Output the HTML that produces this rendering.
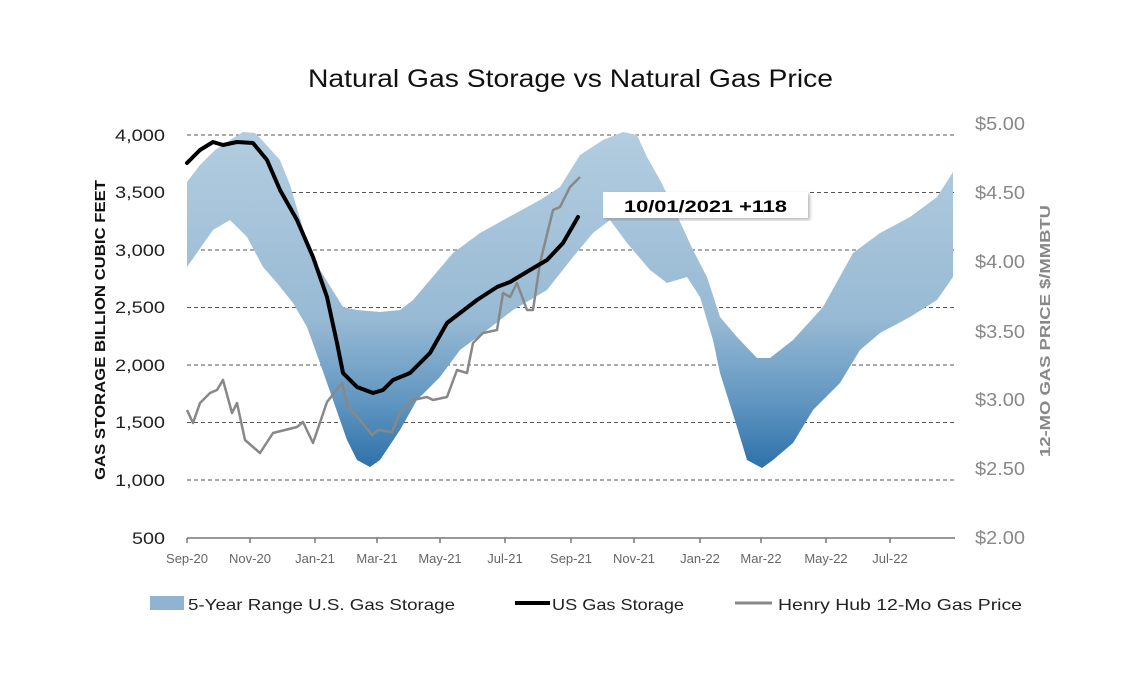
<!DOCTYPE html>
<html><head><meta charset="utf-8"><style>
body{margin:0;background:#fff;}
svg{display:block;font-family:"Liberation Sans",sans-serif;}
</style></head><body>
<svg width="1123" height="677" viewBox="0 0 1123 677" xmlns="http://www.w3.org/2000/svg">
<defs>
<linearGradient id="g" gradientUnits="userSpaceOnUse" x1="0" y1="130" x2="0" y2="472">
<stop offset="0" stop-color="#b3cde0"/>
<stop offset="0.55" stop-color="#98bad4"/>
<stop offset="0.8" stop-color="#5f95c0"/>
<stop offset="1" stop-color="#2a6ea8"/>
</linearGradient>
<filter id="sh"><feDropShadow dx="2" dy="2" stdDeviation="1.5" flood-color="#888" flood-opacity="0.6"/></filter>
</defs>
<text x="308" y="87" font-size="25" textLength="525" lengthAdjust="spacingAndGlyphs" fill="#111">Natural Gas Storage vs Natural Gas Price</text>
<g stroke="#555" stroke-width="1" stroke-dasharray="4,3">
<line x1="187" y1="135" x2="955" y2="135"/><line x1="187" y1="192.5" x2="955" y2="192.5"/>
<line x1="187" y1="250" x2="955" y2="250"/><line x1="187" y1="307.5" x2="955" y2="307.5"/>
<line x1="187" y1="365" x2="955" y2="365"/><line x1="187" y1="422.5" x2="955" y2="422.5"/>
<line x1="187" y1="480" x2="955" y2="480"/>
</g>
<line x1="187" y1="538" x2="955" y2="538" stroke="#777" stroke-width="1.5"/>
<g stroke="#777" stroke-width="1.5">
<line x1="187" y1="538" x2="187" y2="543"/><line x1="250" y1="538" x2="250" y2="543"/><line x1="315" y1="538" x2="315" y2="543"/><line x1="377" y1="538" x2="377" y2="543"/><line x1="440" y1="538" x2="440" y2="543"/><line x1="505" y1="538" x2="505" y2="543"/><line x1="571" y1="538" x2="571" y2="543"/><line x1="634" y1="538" x2="634" y2="543"/><line x1="700" y1="538" x2="700" y2="543"/><line x1="761" y1="538" x2="761" y2="543"/><line x1="826" y1="538" x2="826" y2="543"/><line x1="890" y1="538" x2="890" y2="543"/>
</g>
<polygon fill="url(#g)" points="187,182 200,165 215,150 230,140 243,132 255,133 262,140 280,160 290,185 305,235 320,270 343,307 357,310 380,312 400,310 413,300 430,280 453,253 480,233 507,218 540,200 560,187 580,155 603,140 623,132 637,135 647,157 660,180 670,200 687,237 693,250 707,277 720,317 737,337 757,358 770,358 793,340 823,307 853,253 880,233 910,217 937,197 953,172 953,277 937,300 910,317 880,333 860,350 840,383 813,410 793,443 773,460 762,468 747,460 737,427 720,373 713,340 700,297 687,277 667,283 650,270 627,243 610,220 593,233 573,257 547,290 513,310 487,330 460,350 440,377 417,400 400,430 380,460 370,467 357,460 347,440 320,363 307,327 293,303 277,283 263,267 247,237 230,220 213,230 187,267"/>
<polyline fill="none" stroke="#888" stroke-width="2.5" stroke-linejoin="round" points="187,410 193,423 200,403 210,393 217,390 223,380 232,413 237,403 245,440 260,453 273,433 297,427 303,422 313,443 327,402 342,383 348,407 360,420 372,435 378,430 392,432 400,413 413,400 427,397 433,400 447,397 457,370 467,373 473,343 483,333 497,330 503,293 510,297 517,283 527,310 533,310 540,263 553,210 560,207 570,187 580,177"/>
<polyline fill="none" stroke="#000" stroke-width="4" stroke-linejoin="round" stroke-linecap="round" points="187,163 200,150 213,142 223,145 237,142 253,143 267,160 280,190 297,220 313,257 327,297 337,343 343,373 357,387 373,393 383,390 393,380 410,373 430,353 447,323 460,313 477,300 497,287 510,282 530,270 547,260 563,243 578,217"/>
<rect x="603" y="192" width="205" height="26" fill="#fff" filter="url(#sh)"/>
<text x="624" y="212" font-size="17" font-weight="bold" textLength="163" lengthAdjust="spacingAndGlyphs" fill="#000">10/01/2021  +118</text>
<g font-size="17" fill="#222">
<text x="115" y="141" textLength="50" lengthAdjust="spacingAndGlyphs">4,000</text><text x="115" y="198" textLength="50" lengthAdjust="spacingAndGlyphs">3,500</text><text x="115" y="256" textLength="50" lengthAdjust="spacingAndGlyphs">3,000</text><text x="115" y="313" textLength="50" lengthAdjust="spacingAndGlyphs">2,500</text><text x="115" y="371" textLength="50" lengthAdjust="spacingAndGlyphs">2,000</text><text x="115" y="428" textLength="50" lengthAdjust="spacingAndGlyphs">1,500</text><text x="115" y="486" textLength="50" lengthAdjust="spacingAndGlyphs">1,000</text><text x="132" y="544" textLength="33" lengthAdjust="spacingAndGlyphs">500</text>
</g>
<g font-size="18" fill="#888">
<text x="975" y="130" textLength="50" lengthAdjust="spacingAndGlyphs">$5.00</text><text x="975" y="199" textLength="50" lengthAdjust="spacingAndGlyphs">$4.50</text><text x="975" y="268" textLength="50" lengthAdjust="spacingAndGlyphs">$4.00</text><text x="975" y="338" textLength="50" lengthAdjust="spacingAndGlyphs">$3.50</text><text x="975" y="406" textLength="50" lengthAdjust="spacingAndGlyphs">$3.00</text><text x="975" y="475" textLength="50" lengthAdjust="spacingAndGlyphs">$2.50</text><text x="975" y="544" textLength="50" lengthAdjust="spacingAndGlyphs">$2.00</text>
</g>
<g font-size="13" fill="#666" text-anchor="middle">
<text x="187" y="563">Sep-20</text><text x="250" y="563">Nov-20</text><text x="315" y="563">Jan-21</text><text x="377" y="563">Mar-21</text><text x="440" y="563">May-21</text><text x="505" y="563">Jul-21</text><text x="571" y="563">Sep-21</text><text x="634" y="563">Nov-21</text><text x="700" y="563">Jan-22</text><text x="761" y="563">Mar-22</text><text x="826" y="563">May-22</text><text x="890" y="563">Jul-22</text>
</g>
<text transform="translate(105,480) rotate(-90)" font-size="15" font-weight="bold" textLength="300" lengthAdjust="spacingAndGlyphs" fill="#111">GAS STORAGE BILLION CUBIC FEET</text>
<text transform="translate(1050,457) rotate(-90)" font-size="15" font-weight="bold" textLength="252" lengthAdjust="spacingAndGlyphs" fill="#888">12-MO GAS PRICE $/MMBTU</text>
<rect x="150" y="596" width="34" height="14" fill="#8fb3d0"/>
<text x="188" y="610" font-size="16" textLength="267" lengthAdjust="spacingAndGlyphs" fill="#222">5-Year Range U.S. Gas Storage</text>
<line x1="515" y1="603" x2="550" y2="603" stroke="#000" stroke-width="4"/>
<text x="552" y="610" font-size="16" textLength="132" lengthAdjust="spacingAndGlyphs" fill="#222">US Gas Storage</text>
<line x1="735" y1="603" x2="772" y2="603" stroke="#888" stroke-width="3"/>
<text x="778" y="610" font-size="16" textLength="244" lengthAdjust="spacingAndGlyphs" fill="#222">Henry Hub 12-Mo Gas Price</text>
</svg>
</body></html>
